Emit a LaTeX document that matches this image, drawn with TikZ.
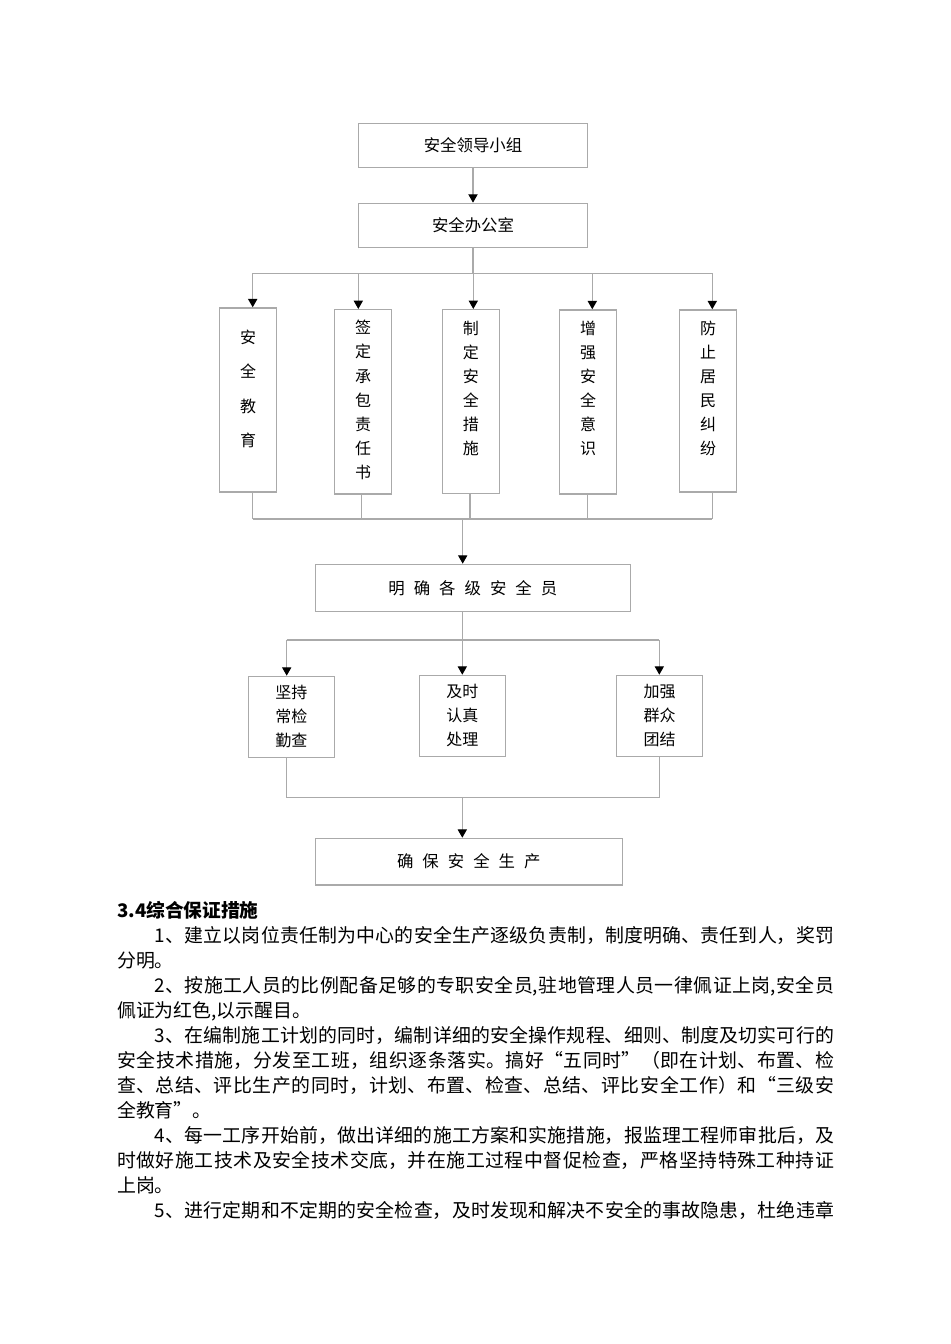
\documentclass[tikz,border=0pt]{standalone}
\usepackage{fontspec}
\setmainfont{Noto Sans CJK SC}
\usetikzlibrary{arrows.meta}
\XeTeXlinebreaklocale "zh"
\XeTeXlinebreakskip=0pt plus 1pt
\definecolor{linegray}{RGB}{170,170,170}
\newcommand{\gp}{\hspace{4.5pt}}

\begin{document}
\begin{tikzpicture}[x=0.5pt,y=-0.5pt,
  line/.style={draw=linegray, line width=0.6pt},
  arr/.style={line, -{Triangle[color=black, width=4.6pt, length=4.2pt]}},
  box/.style={draw=linegray, line width=0.6pt, minimum width=114.7pt, minimum height=22pt, inner sep=0pt, font=\fontsize{8.2pt}{10pt}\selectfont},
  vbox/.style={draw=linegray, line width=0.6pt, anchor=north, text width=28.7pt, align=center, inner sep=0pt, font=\fontsize{8pt}{12pt}\selectfont, text height=12.5pt, text depth=79.5pt},
  cbox/.style={draw=linegray, line width=0.6pt, minimum width=43pt, minimum height=40.5pt, inner sep=0pt, align=center, font=\fontsize{8pt}{12pt}\selectfont}]
\useasboundingbox (0,0) rectangle (950,1344);

% Top of the chart
\node[box] (lead) at (473,145.3) {安全领导小组};
\node[box] (office) at (473,225.3) {安全办公室};
\draw[arr] (lead) -- (office);

% Five measures
\node[vbox, font=\fontsize{8pt}{17.2pt}\selectfont, text height=17.7pt, text depth=74.3pt] (edu) at (248,307.3) {安\\全\\教\\育};
\node[vbox, font=\fontsize{8pt}{12.1pt}\selectfont, text height=12pt, text depth=80.15pt] (contract) at (363,309) {签\\定\\承\\包\\责\\任\\书};
\node[vbox] (rules) at (470.8,309) {制\\定\\安\\全\\措\\施};
\node[vbox] (aware) at (588,309.3) {增\\强\\安\\全\\意\\识};
\node[vbox, text depth=78.5pt] (dispute) at (708,309.3) {防\\止\\居\\民\\纠\\纷};

\draw[line] (office) -- (office |- 0,273.3);
\draw[line] (252.7,273.3) -- (712.3,273.3);
\foreach \n/\ax in {edu/252.7, contract/358.3, rules/473.3, aware/592.3, dispute/712.3}
  \draw[arr] (\ax,273.3) -- (\ax,0 |- \n.north);
\foreach \n/\sx in {edu/252.7, contract/361.7, rules/470, aware/587.3, dispute/712.3}
  \draw[line] (\sx,0 |- \n.south) -- (\sx,519);
\draw[line] (252.7,519) -- (712.3,519);

% Safety officers
\node[box, minimum width=157.5pt, minimum height=23.5pt] (rank) at (472.8,587.8) {明\gp 确\gp 各\gp 级\gp 安\gp 全\gp 员};
\draw[arr] (462.7,519) -- (462.7,0 |- rank.north);

\node[cbox] (check) at (291.3,716.8) {坚持\\常检\\勤查};
\node[cbox] (handle) at (462.3,715.8) {及时\\认真\\处理};
\node[cbox] (unite) at (659.5,715.8) {加强\\群众\\团结};

\draw[line] (462.3,0 |- rank.south) -- (462.3,640);
\draw[line] (286.7,640) -- (659.3,640);
\foreach \n/\ax in {check/286.7, handle/462.3, unite/659.3}
  \draw[arr] (\ax,640) -- (\ax,0 |- \n.north);
\foreach \n/\sx in {check/286.7, unite/659.7}
  \draw[line] (\sx,0 |- \n.south) -- (\sx,797.7);
\draw[line] (286.7,797.7) -- (659.7,797.7);

\node[box, minimum width=153.5pt, minimum height=23.35pt] (safe) at (468.8,861.7) {确\gp 保\gp 安\gp 全\gp 生\gp 产};
\draw[arr] (462.3,797.7) -- (462.3,0 |- safe.north);

% Text below the chart
\node[anchor=base west, inner sep=0pt, font=\bfseries\fontsize{9.35pt}{12pt}\selectfont] (head) at (116.7,917.8) {3.4综合保证措施};
\node[anchor=base west, inner sep=0pt, text width=358.5pt, align=justify, font=\fontsize{9.45pt}{12.5pt}\selectfont] (body) at (116.7,942.2) {%
\hspace*{2em}1、建立以岗位责任制为中心的安全生产逐级负责制，制度明确、责任到人，奖罚\linebreak 分明。\par
\hspace*{2em}2、按施工人员的比例配备足够的专职安全员,驻地管理人员一律佩证上岗,安全员\linebreak 佩证为红色,以示醒目。\par
\hspace*{2em}3、在编制施工计划的同时，编制详细的安全操作规程、细则、制度及切实可行的\linebreak 安全技术措施，分发至工班，组织逐条落实。搞好“五同时”（即在计划、布置、检\linebreak 查、总结、评比生产的同时，计划、布置、检查、总结、评比安全工作）和“三级安\linebreak 全教育”。\par
\hspace*{2em}4、每一工序开始前，做出详细的施工方案和实施措施，报监理工程师审批后，及\linebreak 时做好施工技术及安全技术交底，并在施工过程中督促检查，严格坚持特殊工种持证\linebreak 上岗。\par
\hspace*{2em}5、进行定期和不定期的安全检查，及时发现和解决不安全的事故隐患，杜绝违章\linebreak};
\end{tikzpicture}
\end{document}
